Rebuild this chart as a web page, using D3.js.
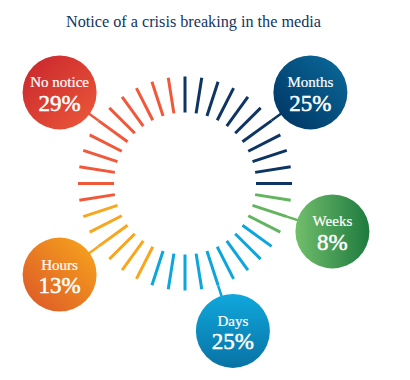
<!DOCTYPE html>
<html><head><meta charset="utf-8">
<script src="https://cdn.jsdelivr.net/npm/d3@7"></script>
<style>html,body{margin:0;padding:0;background:#fff;}svg{display:block;}</style>
</head><body>
<script>
// ---- data ----
const title = "Notice of a crisis breaking in the media";
const categories = ["Months", "Weeks", "Days", "Hours", "No notice"];
const percents = [25, 8, 25, 13, 29];
const tickCounts = [11, 3, 9, 6, 11];   // number of ring ticks per category (clockwise from top)
const tickColors = ["#0d3462", "#62b45e", "#0ca5dc", "#f8a61c", "#f1583a"];
const gradFrom = ["#003260", "#72be6c", "#10a8dc", "#f7a81c", "#c8242c"];
const gradTo   = ["#0a6c9c", "#1d7a3e", "#0872a4", "#dc5428", "#ec5a3a"];

// ---- layout ----
const W = 410, H = 380;
const cx = 185, cy = 183.5, rIn = 71, rOut = 107, rBubble = 155, bubbleR = 37;
const calloutTick = [6, 1, 4, 3, 5];
const gradDir = [[0,1,1,0],[0,0,1,0],[0,0,0,1],[1,0,0,1],[0,0,1,1]];

const svg = d3.select("body").append("svg").attr("width", W).attr("height", H);

const total = d3.sum(tickCounts);
const angle = d3.scaleLinear().domain([0, total]).range([0, 360]);

const ticks = [];
categories.forEach((c, ci) => {
  const start = d3.sum(tickCounts.slice(0, ci));
  for (let k = 0; k < tickCounts[ci]; k++) ticks.push({ci, k, idx: start + k});
});
const pt = (deg, r) => {
  const a = deg * Math.PI / 180;
  return [cx + r * Math.sin(a), cy - r * Math.cos(a)];
};

const defs = svg.append("defs");
categories.forEach((c, i) => {
  const g = defs.append("linearGradient").attr("id", "g" + i)
    .attr("x1", gradDir[i][0]).attr("y1", gradDir[i][1])
    .attr("x2", gradDir[i][2]).attr("y2", gradDir[i][3]);
  g.append("stop").attr("offset", "0").attr("stop-color", gradFrom[i]);
  g.append("stop").attr("offset", "1").attr("stop-color", gradTo[i]);
});

svg.append("text").attr("x", 193.5).attr("y", 27).attr("text-anchor", "middle")
  .attr("font-family", "'Liberation Serif', serif").attr("font-size", 16)
  .attr("textLength", 255).attr("lengthAdjust", "spacingAndGlyphs")
  .attr("fill", "#13345f").text(title);

svg.append("g").selectAll("line").data(ticks).join("line")
  .each(function(d) {
    const a = angle(d.idx), p1 = pt(a, rIn), p2 = pt(a, rOut);
    d3.select(this).attr("x1", p1[0]).attr("y1", p1[1]).attr("x2", p2[0]).attr("y2", p2[1]);
  })
  .attr("stroke", d => tickColors[d.ci]).attr("stroke-width", 3);

const bubbles = categories.map((c, i) => {
  const a = angle(d3.sum(tickCounts.slice(0, i)) + calloutTick[i]);
  const [x, y] = pt(a, rBubble);
  return {c, i, a, x, y};
});

svg.append("g").selectAll("line").data(bubbles).join("line")
  .each(function(d) {
    const p = pt(d.a, rOut);
    d3.select(this).attr("x1", p[0]).attr("y1", p[1]).attr("x2", d.x).attr("y2", d.y);
  })
  .attr("stroke", d => tickColors[d.i]).attr("stroke-width", 2.5);

const bg = svg.append("g").selectAll("g").data(bubbles).join("g")
  .attr("transform", d => `translate(${d.x},${d.y})`);
bg.append("circle").attr("r", bubbleR).attr("fill", d => `url(#g${d.i})`);
bg.append("text").attr("y", -5).attr("text-anchor", "middle")
  .attr("font-family", "'Liberation Serif', serif").attr("font-size", 15)
  .attr("fill", "#fff").attr("stroke", "#fff").attr("stroke-width", 0.2).text(d => d.c);
bg.append("text").attr("y", 18.5).attr("text-anchor", "middle")
  .attr("font-family", "'Liberation Serif', serif").attr("font-size", 23)
  .attr("fill", "#fff").attr("stroke", "#fff").attr("stroke-width", 0.5).text(d => percents[d.i] + "%");
</script>
</body></html>
